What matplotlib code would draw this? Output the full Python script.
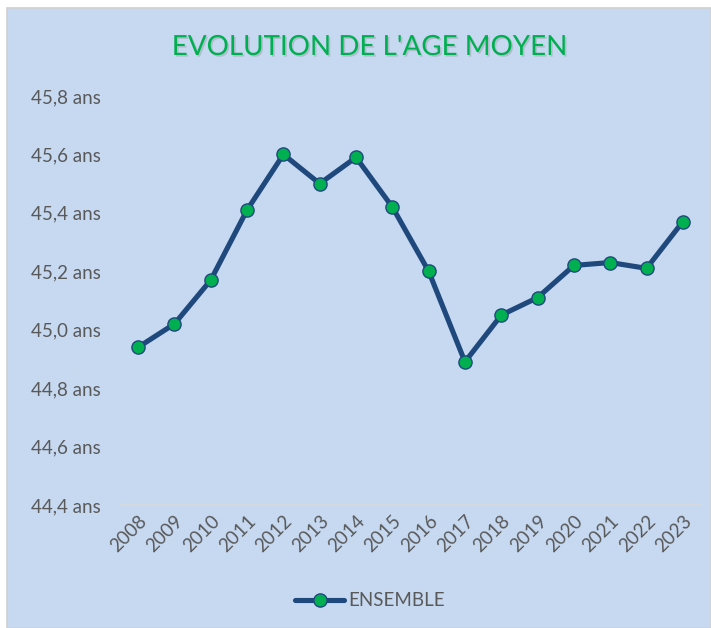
import matplotlib
matplotlib.use('Agg')
import matplotlib.pyplot as plt
import matplotlib.patheffects as pe
from matplotlib.patches import Rectangle
from matplotlib.ticker import FuncFormatter, MultipleLocator

# data
years = ['2008', '2009', '2010', '2011', '2012', '2013', '2014', '2015',
         '2016', '2017', '2018', '2019', '2020', '2021', '2022', '2023']
age = [44.94, 45.02, 45.17, 45.41, 45.60, 45.50, 45.59, 45.42,
       45.20, 44.89, 45.05, 45.11, 45.22, 45.23, 45.21, 45.37]

plt.rcParams['font.family'] = ['Lato', 'DejaVu Sans']

bg = '#C6D9F1'
txt = '#595959'

fig = plt.figure(figsize=(7.11, 6.28), dpi=100, facecolor='white')
fig.patches.append(Rectangle((7 / 711, 0), 1 - 7 / 711, 620 / 628,
                             transform=fig.transFigure, facecolor=bg,
                             edgecolor='#D0D0D0', linewidth=1.2, zorder=-5))

ax = fig.add_axes([120 / 711, 123 / 628, 581 / 711, 409 / 628])
ax.set_facecolor('none')
ax.set_zorder(2)

x = list(range(len(years)))
ax.plot(x, age, color='#1F497D', linewidth=3.7, marker='o', markersize=9.5,
        markerfacecolor='#00B050', markeredgecolor='#1F497D',
        markeredgewidth=1.0, label='ENSEMBLE', solid_capstyle='round')

ax.set_xlim(-0.5, len(years) - 0.5)
ax.set_ylim(44.4, 45.8)
ax.yaxis.set_major_locator(MultipleLocator(0.2))
ax.yaxis.set_major_formatter(FuncFormatter(
    lambda v, p: ('%.1f ans' % v).replace('.', ',')))

ax.set_xticks(x)
ax.set_xticklabels(years, rotation=45, ha='right', va='top',
                   rotation_mode='anchor')

for s in ['top', 'right', 'left']:
    ax.spines[s].set_visible(False)
ax.spines['bottom'].set_color('#D9D9D9')
ax.spines['bottom'].set_linewidth(1.2)

ax.tick_params(axis='both', length=0, labelcolor=txt)
ax.tick_params(axis='y', pad=14, labelsize=13.5)
ax.tick_params(axis='x', pad=5, labelsize=13.5)

fig.text(369 / 711, (628 - 47) / 628, "EVOLUTION DE L'AGE MOYEN",
         ha='center', va='center', fontsize=20, color='#00B050',
         path_effects=[pe.withSimplePatchShadow(offset=(1.2, -1.2),
                                               shadow_rgbFace='#7F7F7F',
                                               alpha=0.3)])

leg = fig.legend(loc='center', bbox_to_anchor=(370 / 711, (628 - 601) / 628),
                 frameon=False, fontsize=13.5, handlelength=2.6,
                 handletextpad=0.2, labelcolor=txt)

fig.savefig('out.png', dpi=100, facecolor='white')
